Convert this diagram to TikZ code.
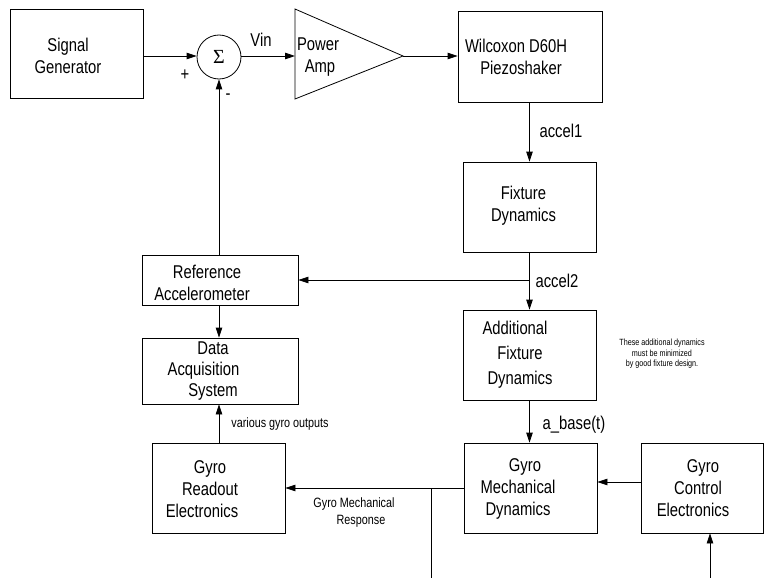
\documentclass[tikz,border=0pt]{standalone}
\usepackage{fontspec}
\setmainfont{Liberation Sans}[FakeStretch=0.80]
\newfontfamily\sigfont{Liberation Serif}
\usetikzlibrary{arrows.meta,calc}
\begin{document}
\begin{tikzpicture}[x=1pt,y=-1pt,
  blk/.style={draw, line width=0.8pt, inner sep=0pt},
  txt/.style={font=\fontsize{18.5}{22}\selectfont, align=center, inner sep=0pt},
  lbl/.style={font=\fontsize{18.5}{22}\selectfont, inner sep=0pt},
  small/.style={font=\fontsize{13.5}{17}\selectfont, align=center, inner sep=0pt},
  tiny/.style={font=\fontsize{9}{10.5}\selectfont, align=center, inner sep=0pt},
  wire/.style={line width=0.8pt},
  arr/.style={wire, -{Triangle[length=10pt,width=6.5pt]}}]
\useasboundingbox (0,0) rectangle (764,578);

% boxes
\node[blk, minimum width=133pt, minimum height=89pt] (sg) at (76.5,53.5) {};
\node[txt] (sgt) at (68,56) {Signal\\Generator};

\node[draw, circle, line width=0.8pt, minimum size=44pt, inner sep=0pt,
      font=\sigfont\fontsize{20}{20}\selectfont] (sum) at (219,57) {Σ};

\coordinate (ampin) at (295,56);
\coordinate (ampout) at (403,56);
\draw[wire] (295,9) -- (ampout) -- (295,99) -- cycle;
\node[txt] (ampt) at (318,57) {Power\\\hspace*{4pt}Amp};

\node[blk, minimum width=144pt, minimum height=91pt] (wil) at (530,56.5) {};
\node[txt] (wilt) at (516,57) {Wilcoxon D60H\\\hspace*{10pt}Piezoshaker};

\node[blk, minimum width=133pt, minimum height=90pt] (fix) at (529.5,207) {};
\node[txt] (fixt) at (523.5,206) {Fixture\\Dynamics};

\node[blk, minimum width=156pt, minimum height=50pt] (ref) at (220,280) {};
\node[txt] (reft) at (202,283) {\hspace*{10pt}Reference\\Accelerometer};

\node[blk, minimum width=156pt, minimum height=66pt] (daq) at (220,371) {};
\node[font=\fontsize{18.5}{21}\selectfont, align=center, inner sep=0pt] (daqt) at (213,371)
  {Data\\\hspace*{-19pt}Acquisition\\System};

\node[blk, minimum width=133pt, minimum height=90pt] (ro) at (218.5,488) {};
\node[txt] (rot) at (210,489) {Gyro\\Readout\\\hspace*{-16pt}Electronics};

\node[blk, minimum width=133pt, minimum height=90pt] (add) at (529.5,355) {};
\node[txt, font=\fontsize{18.5}{25}\selectfont] (addt) at (520,355) {\hspace*{-10pt}Additional\\Fixture\\Dynamics};

\node[blk, minimum width=133pt, minimum height=90pt] (mech) at (530.5,488) {};
\node[txt] (mecht) at (518,489) {\hspace*{14pt}Gyro\\Mechanical\\Dynamics};

\node[blk, minimum width=122pt, minimum height=90pt] (ctl) at (702,488) {};
\node[txt] (ctlt) at (698,488) {\hspace*{10pt}Gyro\\Control\\\hspace*{-10pt}Electronics};

% labels
\node[lbl] (vin) at (261,40) {Vin};
\node[lbl] (plus) at (185,75) {+};
\node[lbl] (minus) at (228,97) {-};
\node[lbl] (a1) at (561,131) {accel1};
\node[lbl] (a2) at (557,281) {accel2};
\node[lbl] (ab) at (574,425) {a\_base(t)};
\node[small] (vgo) at (280,424) {various gyro outputs};
\node[small] (gmr) at (354,513) {Gyro Mechanical\\\hspace*{14pt}Response};
\node[tiny] (note) at (662,354) {These additional dynamics\\must be minimized\\by good fixture design.};

% connectors
\draw[arr] (sg.east |- 0,56) -- (sum.west |- 0,56);
\draw[arr] (sum.east |- ampin) -- (ampin);
\draw[arr] (ampout) -- (wil.west |- ampout);
\draw[arr] (fix.north |- wil.south) -- (fix.north);
\draw[arr] (fix.south) -- (add.north);
\coordinate (br) at (fix.south |- ref.east);
\draw[arr] (br) -- (ref.east);
\draw[arr] (sum.south |- ref.north) -- (sum.south);
\draw[arr] (sum.south |- ref.south) -- (sum.south |- daq.north);
\draw[arr] (sum.south |- ro.north) -- (sum.south |- daq.south);
\draw[arr] (add.south) -- (add.south |- mech.north);
\draw[arr] ($(ctl.west)+(0,-6)$) -- ($(mech.east)+(0,-6)$);
\draw[arr] (mech.west) -- (ro.east);
\coordinate (tap) at (431,488);
\coordinate (tapend) at (431,578);
\draw[wire] (tap) -- (tapend);
\coordinate (ctlin) at (710,578);
\draw[arr] (ctlin) -- (ctlin |- ctl.south);
\end{tikzpicture}
\end{document}
